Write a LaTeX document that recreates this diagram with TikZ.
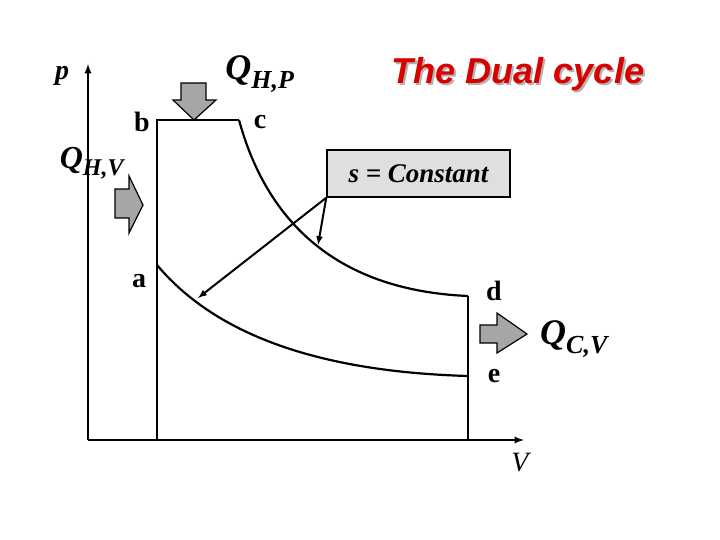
\documentclass[tikz,border=0pt]{standalone}
\usepackage{fontspec}
\setmainfont{Liberation Serif}
\newfontfamily\titlefont{Liberation Sans}
\tikzset{%
  lbl/.style = {font=\bfseries\fontsize{28}{28}\selectfont},
  q/.style = {font=\bfseries\itshape\fontsize{36}{36}\selectfont},
  heat/.style = {draw,line width=1.2pt,fill=gray!70},
  line/.style = {line width=2.2pt},
  lead/.style = {-latex,line width=2pt}
}
\begin{document}
\begin{tikzpicture}[x=1pt,y=-1pt]
  \useasboundingbox (0,0) rectangle (720,540);
  % axes
  \coordinate (o) at (88,440);
  \draw[line,-latex] (o) -- (88,64);
  \draw[line,-latex] (o) -- (524,440);
  \node[font=\bfseries\itshape\fontsize{28}{28}\selectfont] (p) at (62,76) {p};
  \node[font=\itshape\fontsize{28}{28}\selectfont] (V) at (520,463) {V};
  % cycle
  \coordinate (a) at (157,265);
  \coordinate (b) at (157,120);
  \coordinate (c) at (239,120);
  \coordinate (d) at (468,296);
  \coordinate (e) at (468,376);
  \draw[line] (157,440) -- (b) -- (c);
  \draw[line] (c) .. controls (265,215) and (330,290) .. (d);
  \draw[line] (a) .. controls (220,340) and (330,372) .. (e);
  \draw[line] (d) -- (468,440);
  \node[lbl] (la) at (139,281) {a};
  \node[lbl] (lb) at (142,122) {b};
  \node[lbl] (lc) at (260,122) {c};
  \node[lbl] (ld) at (494,291) {d};
  \node[lbl] (le) at (494,376) {e};
  % heat flows
  \draw[heat] (181,83) -- (206,83) -- (206,100) -- (216,100) -- (194,120)
    -- (173,100) -- (181,100) -- cycle;
  \draw[heat] (115,189) -- (129,189) -- (129,176) -- (143,205) -- (129,233)
    -- (129,218) -- (115,218) -- cycle;
  \draw[heat] (480,325) -- (497,325) -- (497,313) -- (527,334) -- (497,353)
    -- (497,343) -- (480,343) -- cycle;
  \node[q] (qhp) at (260,74) {Q\textsubscript{\fontsize{26}{26}\selectfont H,P}};
  \node[q,font=\bfseries\itshape\fontsize{32}{32}\selectfont] (qhv) at (92,163) {Q\textsubscript{\fontsize{24}{24}\selectfont H,V}};
  \node[q] (qcv) at (574,339) {Q\textsubscript{\fontsize{26}{26}\selectfont C,V}};
  % title and isentrope label
  \node[font=\titlefont\bfseries\itshape\fontsize{36}{36}\selectfont,text=gray!60] at (520,76) {The Dual cycle};
  \node[font=\titlefont\bfseries\itshape\fontsize{36}{36}\selectfont,text=red!85!black] (title) at (518,74) {The Dual cycle};
  \node[draw,line width=1.5pt,fill=gray!25,minimum width=183pt,minimum height=47pt,
        font=\bfseries\itshape\fontsize{27}{27}\selectfont] (s) at (418.5,173.5) {s = Constant};
  \coordinate (s1) at (318,245);
  \coordinate (s2) at (198,298);
  \draw[lead] (s.south west) -- (s1);
  \draw[lead] (s.south west) -- (s2);
\end{tikzpicture}
\end{document}
